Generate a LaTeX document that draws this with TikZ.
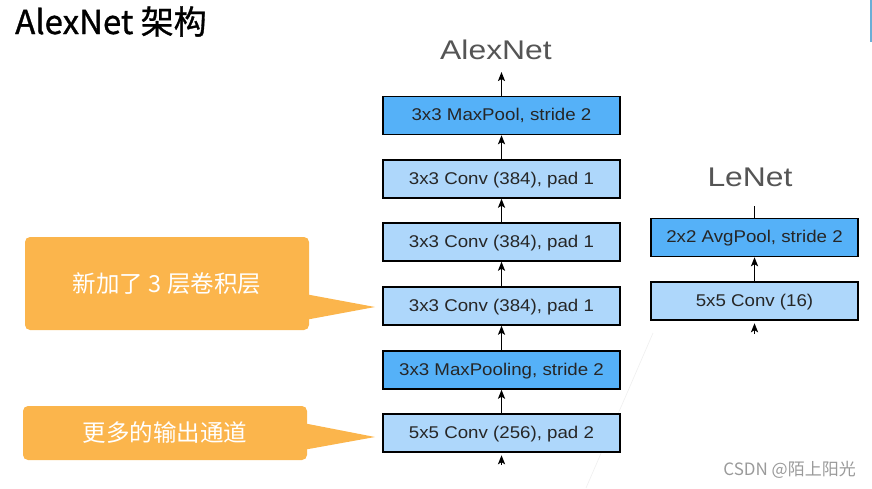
\documentclass[tikz,border=0pt]{standalone}
\usepackage{fontspec}
\usetikzlibrary{arrows.meta}
\newfontfamily\boxfont[FakeStretch=1.1]{Liberation Sans}
\newfontfamily\netfont[FakeStretch=1.18]{Liberation Sans}
\newfontfamily\cjkfont{Noto Sans CJK SC}
\newfontfamily\cjktitle[FakeBold=1]{Noto Sans CJK SC}
\definecolor{darkblue}{HTML}{55B1F8}
\definecolor{lightblue}{HTML}{AED7FB}
\definecolor{orangefill}{HTML}{FBB54C}
\definecolor{titlegray}{HTML}{555555}
\definecolor{markgray}{HTML}{9A9A9A}
\definecolor{edgeblue}{HTML}{6BAED6}
\begin{document}
\begin{tikzpicture}[x=1pt,y=-1pt,
  layer/.style={draw=black, line width=1.4pt, minimum width=237pt, minimum height=38pt,
    inner sep=0pt, text height=12.5pt, text depth=2.5pt, text=black!85,
    font=\boxfont\fontsize{17}{20}\selectfont},
  pool/.style={layer, fill=darkblue},
  conv/.style={layer, fill=lightblue},
  lenet/.style={minimum width=207pt},
  arr/.style={-{Stealth[length=9pt,width=7pt,inset=2pt]}, line width=1.9pt},
  netlabel/.style={text=titlegray, font=\netfont\fontsize{27}{30}\selectfont, inner sep=0pt},
  callout/.style={fill=orangefill, rounded corners=5pt, inner sep=0pt, text=white,
    font=\cjkfont\fontsize{23.5}{26}\selectfont}
]
\useasboundingbox (0,0) rectangle (872,488);

% faint background artefacts
\draw[black!6, line width=0.7pt] (653,333) -- (586,488);
\draw[edgeblue, line width=1.5pt] (871,0) -- (871,42);

% page title
\node[anchor=base west, inner sep=0pt, font=\cjktitle\fontsize{33}{36}\selectfont] (title) at (15,34) {AlexNet 架构};

% AlexNet column
\node[netlabel] (alexlabel) at (496,50) {AlexNet};
\node[pool] (m2) at (501.5,115.5) {3x3 MaxPool, stride 2};
\node[conv] (c5) at (501.5,179) {3x3 Conv (384), pad 1};
\node[conv] (c4) at (501.5,242) {3x3 Conv (384), pad 1};
\node[conv] (c3) at (501.5,306) {3x3 Conv (384), pad 1};
\node[pool] (m1) at (501.5,370) {3x3 MaxPooling, stride 2};
\node[conv] (c1) at (501.5,433) {5x5 Conv (256), pad 2};
\coordinate (ain) at (501.5,465);
\coordinate (aout) at (501.5,72);

\draw[arr, shorten >=2.5pt] (ain) -- (c1.south);
\draw[arr] (c1.north) -- (m1.south);
\draw[arr] (m1.north) -- (c3.south);
\draw[arr] (c3.north) -- (c4.south);
\draw[arr] (c4.north) -- (c5.south);
\draw[arr] (c5.north) -- (m2.south);
\draw[arr] (m2.north) -- (aout);

% LeNet column
\node[netlabel] (lenetlabel) at (750,177) {LeNet};
\node[pool, lenet] (ap) at (754.5,237.5) {2x2 AvgPool, stride 2};
\node[conv, lenet] (lc) at (754.5,301) {5x5 Conv (16)};
\coordinate (lin) at (754.5,334);
\coordinate (lout) at (754.5,206);
\draw[arr, shorten >=2.5pt] (lin) -- (lc.south);
\draw[arr] (lc.north) -- (ap.south);
\draw[line width=1.9pt] (ap.north) -- (lout);

% callouts
\node[callout, minimum width=284pt, minimum height=93pt] (callA) at (167,283.5) {新加了 3 层卷积层};
\fill[orangefill] (305,294) -- (375,307) -- (305,320) -- cycle;
\node[callout, minimum width=284pt, minimum height=54pt] (callB) at (165,433) {更多的输出通道};
\fill[orangefill] (303,423) -- (375,437) -- (303,450) -- cycle;

% watermark
\node[anchor=base east, inner sep=0pt, text=markgray, font=\cjkfont\fontsize{17}{19}\selectfont] (mark) at (856,475) {CSDN @陌上阳光};
\end{tikzpicture}
\end{document}
